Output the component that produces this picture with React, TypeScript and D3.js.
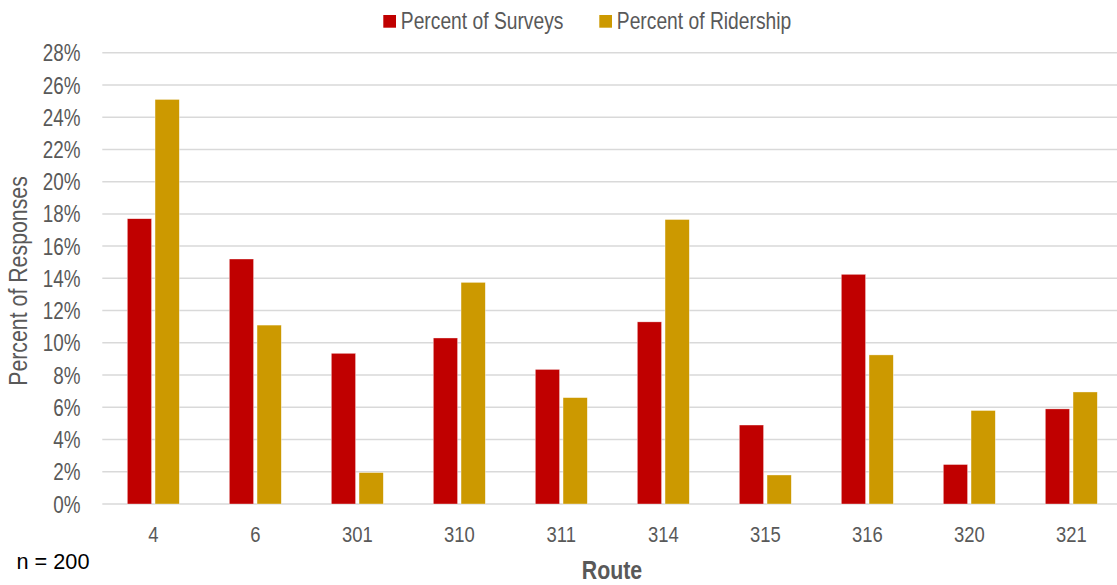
import React from "react";
import * as d3 from "d3";

const routes = ["4", "6", "301", "310", "311", "314", "315", "316", "320", "321"];
const percentSurveys = [17.7, 15.2, 9.35, 10.3, 8.35, 11.3, 4.9, 14.25, 2.45, 5.9];
const percentRidership = [25.1, 11.1, 1.95, 13.75, 6.6, 17.65, 1.8, 9.25, 5.8, 6.95];
const yTicks = [0, 2, 4, 6, 8, 10, 12, 14, 16, 18, 20, 22, 24, 26, 28];
const seriesNames = ["Percent of Surveys", "Percent of Ridership"];
const seriesColors = ["#C00000", "#CC9900"];

const W = 1117;
const H = 585;
const FONT = "'Liberation Sans', Arial, sans-serif";
const NARROW = 0.82;

function NText(props: {
  x: number;
  y: number;
  size: number;
  anchor?: string;
  fill?: string;
  weight?: string;
  rotate?: number;
  children: React.ReactNode;
}) {
  const { x, y, size, anchor = "start", fill = "#595959", weight = "normal", rotate = 0 } = props;
  return (
    <text
      transform={`translate(${x},${y}) rotate(${rotate}) scale(${NARROW},1)`}
      textAnchor={anchor}
      fontSize={size}
      fontWeight={weight}
      fill={fill}
    >
      {props.children}
    </text>
  );
}

export default function App() {
  const left = 102.3;
  const right = 1122.3;
  const top = 52.7;
  const bottom = 504;

  const x = d3.scaleBand<string>().domain(routes).range([left, right]).paddingInner(0).paddingOuter(0);
  const inner = d3.scaleBand<number>().domain([0, 1]).range([-26, 26]).paddingInner(0.125).paddingOuter(0);
  const y = d3.scaleLinear().domain([0, 28]).range([bottom, top]);

  const series = [percentSurveys, percentRidership];

  return (
    <svg
      width={W}
      height={H}
      style={{ position: "fixed", left: 0, top: 0, background: "#fff" }}
      fontFamily={FONT}
    >
      {yTicks.map((t) => (
        <line key={"g" + t} x1={left} x2={W} y1={y(t)} y2={y(t)} stroke="#d9d9d9" strokeWidth={1.5} />
      ))}
      {yTicks.map((t) => (
        <NText key={"yl" + t} x={80.5} y={y(t) + 8.6} size={23} anchor="end">
          {t + "%"}
        </NText>
      ))}
      {routes.map((r, i) => {
        const cx = (x(r) as number) + x.bandwidth() / 2;
        return series.map((s, k) => (
          <rect
            key={r + "-" + k}
            x={cx + (inner(k) as number)}
            y={y(s[i])}
            width={inner.bandwidth()}
            height={y(0) - y(s[i])}
            fill={seriesColors[k]}
            stroke="#fff"
            strokeOpacity={0.6}
            strokeWidth={0.6}
          />
        ));
      })}
      {routes.map((r) => (
        <NText key={"xl" + r} x={(x(r) as number) + x.bandwidth() / 2} y={541.5} size={22.5} anchor="middle">
          {r}
        </NText>
      ))}
      {seriesNames.map((n, k) => {
        const lx = k === 0 ? 383.3 : 599.3;
        return (
          <g key={"lg" + k}>
            <rect x={lx} y={15} width={12.7} height={12.7} fill={seriesColors[k]} />
            <NText x={lx + 17.5} y={29.3} size={23.5}>
              {n}
            </NText>
          </g>
        );
      })}
      <NText x={26.8} y={281} size={26} anchor="middle" rotate={-90}>
        Percent of Responses
      </NText>
      <NText x={612} y={579} size={26} anchor="middle" weight="bold">
        Route
      </NText>
      <text x={16.5} y={569} fontSize={21.7} fill="#000">
        n = 200
      </text>
    </svg>
  );
}
